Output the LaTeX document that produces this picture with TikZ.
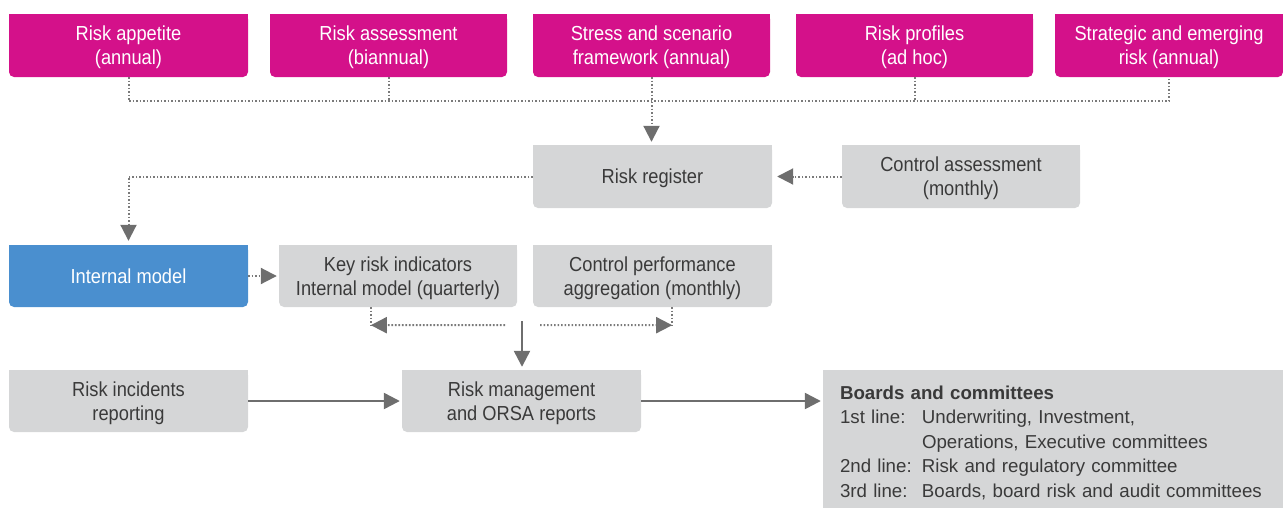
\documentclass[tikz,border=0pt]{standalone}
\usepackage{fontspec}
\setmainfont{Liberation Sans}
\newfontfamily\narrowfont[FakeStretch=0.9]{Liberation Sans}
\usetikzlibrary{arrows.meta,backgrounds}
\definecolor{mag}{HTML}{D4118A}
\definecolor{imblue}{HTML}{4A8FCF}
\definecolor{boxgray}{HTML}{D5D6D7}
\definecolor{txtgray}{HTML}{3A3A3A}
\definecolor{arrgray}{HTML}{6E6E6E}
\definecolor{dotgray}{HTML}{7A7A7A}
\newcommand{\boxfont}{\narrowfont\fontsize{20.3}{24}\selectfont}
\newcommand{\bdfont}{\fontsize{18.7}{24.5}\selectfont\hyphenpenalty=10000}
\begin{document}
\begin{tikzpicture}[x=1pt,y=-1pt,
  base/.style={rectangle, rounded corners=5pt, inner sep=0pt, align=center, minimum height=63pt, text depth=0pt, font=\boxfont},
  magbox/.style={base, fill=mag, text=white},
  graybox/.style={base, fill=boxgray, text=txtgray},
  bluebox/.style={base, fill=imblue, text=white},
  dotline/.style={draw=dotgray, line width=2pt, dash pattern=on 1.6pt off 1.9pt},
  dotarrow/.style={dotline, -{Triangle[length=16pt,width=16pt,color=arrgray]}},
  solidarrow/.style={draw=arrgray, line width=2.4pt, -{Triangle[length=16pt,width=16pt]}}]
\useasboundingbox (0,0) rectangle (1283,507);
% top row
\node[magbox, minimum width=239pt] (m1) at (128.5,45.5) {Risk appetite\\(annual)};
\node[magbox, minimum width=237pt] (m2) at (388.5,45.5) {Risk assessment\\(biannual)};
\node[magbox, minimum width=237pt] (m3) at (651.5,45.5) {Stress and scenario\\framework (annual)};
\node[magbox, minimum width=237pt] (m4) at (914.5,45.5) {Risk profiles\\(ad hoc)};
\node[magbox, minimum width=228pt] (m5) at (1169,45.5) {Strategic and emerging\\risk (annual)};
% second row
\node[graybox, minimum width=239pt] (rr) at (652.5,176.5) {Risk register};
\node[graybox, minimum width=238pt] (ca) at (961,176.5) {Control assessment\\(monthly)};
% third row
\node[bluebox, minimum width=239pt, minimum height=62pt] (im) at (128.5,276) {Internal model};
\node[graybox, minimum width=238pt, minimum height=62pt] (kri) at (398,276) {Key risk indicators\\Internal model (quarterly)};
\node[graybox, minimum width=239pt, minimum height=62pt] (cp) at (652.5,276) {Control performance\\aggregation (monthly)};
% fourth row
\node[graybox, minimum width=239pt, minimum height=62pt] (ri) at (128.5,401) {Risk incidents\\reporting};
\node[graybox, minimum width=239pt, minimum height=62pt] (rm) at (521.5,401) {Risk management\\and ORSA reports};
\node[rectangle, fill=boxgray, text=txtgray, inner xsep=17pt, inner ysep=0pt, text width=426pt, minimum height=145pt, align=left, font=\bdfont] (bd) at (1053,442.5)
  {\textbf{Boards and committees}\\
   \makebox[82pt][l]{1st line:}Underwriting, Investment,\\
   \hspace*{82pt}Operations, Executive committees\\
   \makebox[82pt][l]{2nd line:}Risk and regulatory committee\\
   \makebox[82pt][l]{3rd line:}Boards, board risk and audit committees};
% square top corners
\begin{scope}[on background layer]
\foreach \n/\c in {m1/mag,m2/mag,m3/mag,m4/mag,m5/mag,rr/boxgray,ca/boxgray,im/imblue,kri/boxgray,cp/boxgray,ri/boxgray,rm/boxgray}
  \fill[\c] (\n.north west) rectangle (\n.east);
\end{scope}
% coordinates
\coordinate (busy) at (0,101);
\coordinate (kriB) at ([xshift=92pt]kri.south west);
\coordinate (kriC) at ([yshift=-18pt]kriB);
\coordinate (cpB) at ([xshift=-100pt]cp.south east);
\coordinate (cpC) at ([yshift=-18pt]cpB);
\coordinate (splitL) at (505,325);
\coordinate (splitR) at (540,325);
\coordinate (splitT) at (522,321);
% connectors
\draw[dotline] (m1.south) -- (m1.south |- busy) -- (m5.south |- busy) -- (m5.south);
\draw[dotline] (m2.south) -- (m2.south |- busy);
\draw[dotline] (m4.south) -- (m4.south |- busy);
\draw[dotarrow, shorten >=3pt] (m3.south) -- (m3.south |- rr.north);
\draw[dotarrow, shorten >=5pt] (ca.west) -- (rr.west -| rr.east);
\draw[dotarrow, shorten >=4pt] (rr.west) -| (im.north);
\draw[dotarrow, shorten >=2pt] (im.east) -- (kri.west);
\draw[dotline] (kriB) -- (kriC);
\draw[dotarrow] (splitL) -- (kriC);
\draw[dotline] (cpB) -- (cpC);
\draw[dotarrow] (splitR) -- (cpC);
\draw[solidarrow, shorten >=3pt] (splitT) -- (splitT |- rm.north);
\draw[solidarrow, shorten >=2pt] (ri.east) -- (rm.west);
\draw[solidarrow, shorten >=2pt] (rm.east) -- (rm.east -| bd.west);
\end{tikzpicture}
\end{document}
